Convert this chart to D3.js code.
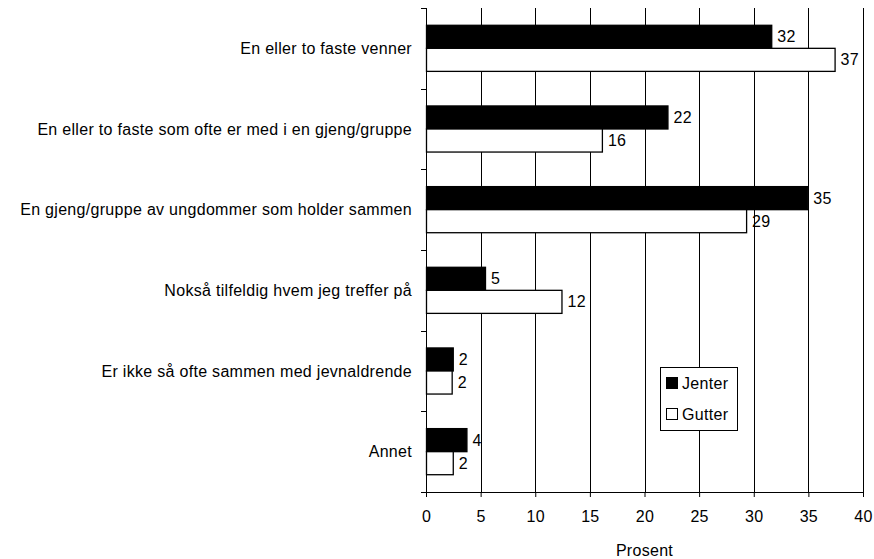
<!DOCTYPE html>
<html>
<head>
<meta charset="utf-8">
<script src="https://cdn.jsdelivr.net/npm/d3@7"></script>
<style>
  body { margin: 0; background: #fff; }
  text { font-family: Arial, "Liberation Sans", sans-serif; font-size: 16px; letter-spacing: 0.3px; }
</style>
</head>
<body>
<div id="chart"></div>
<script>
var categories = [
  "En eller to faste venner",
  "En eller to faste som ofte er med i en gjeng/gruppe",
  "En gjeng/gruppe av ungdommer som holder sammen",
  "Nokså tilfeldig hvem jeg treffer på",
  "Er ikke så ofte sammen med jevnaldrende",
  "Annet"
];
var seriesNames = ["Jenter", "Gutter"];
var jenter = [31.6, 22.1, 34.9, 5.4, 2.45, 3.7];
var gutter = [37.4, 16.1, 29.3, 12.4, 2.35, 2.45];
var xTicks = [0, 5, 10, 15, 20, 25, 30, 35, 40];

var margin = {top: 8, right: 11, bottom: 67, left: 426},
    width = 874 - margin.left - margin.right,
    height = 559 - margin.top - margin.bottom;

var svg = d3.select("#chart")
  .append("svg")
    .attr("width", 874)
    .attr("height", 559)
  .append("g")
    .attr("transform", "translate(" + margin.left + "," + margin.top + ")");

var x = d3.scaleLinear().domain([0, 40]).range([0, width]);
var y = d3.scaleBand().domain(categories).range([0, height]);
var y1 = d3.scaleBand().domain(seriesNames).range([0, y.bandwidth()]).paddingOuter(0.75);

// vertical gridlines
svg.append("g")
  .selectAll("line")
  .data(xTicks.slice(1))
  .enter().append("line")
    .attr("x1", function(d) { return Math.round(x(d)) + 0.5; })
    .attr("x2", function(d) { return Math.round(x(d)) + 0.5; })
    .attr("y1", 0)
    .attr("y2", height)
    .attr("stroke", "#000")
    .attr("stroke-width", 1);

// bars
var rows = categories.map(function(c, i) {
  return {cat: c, vals: [{s: "Jenter", v: jenter[i]}, {s: "Gutter", v: gutter[i]}]};
});

var groups = svg.selectAll(".grp")
  .data(rows)
  .enter().append("g")
    .attr("class", "grp")
    .attr("transform", function(d) { return "translate(0," + y(d.cat) + ")"; });

groups.selectAll("rect")
  .data(function(d) { return d.vals; })
  .enter().append("rect")
    .attr("x", 0.5)
    .attr("y", function(d) { return y1(d.s); })
    .attr("width", function(d) { return x(d.v); })
    .attr("height", y1.bandwidth())
    .attr("fill", function(d) { return d.s === "Jenter" ? "#000" : "#fff"; })
    .attr("stroke", "#000")
    .attr("stroke-width", 1.3);

groups.selectAll(".val")
  .data(function(d) { return d.vals; })
  .enter().append("text")
    .attr("class", "val")
    .attr("x", function(d) { return x(d.v) + 6; })
    .attr("y", function(d) { return y1(d.s) + y1.bandwidth() / 2; })
    .attr("dy", "0.35em")
    .attr("fill", "#000")
    .text(function(d) { return d3.format(".0f")(d.v); });

// y axis
var yAxis = svg.append("g");
yAxis.append("line")
  .attr("x1", 0.5).attr("x2", 0.5)
  .attr("y1", 0).attr("y2", height)
  .attr("stroke", "#000");
yAxis.selectAll(".tk")
  .data(d3.range(categories.length + 1))
  .enter().append("line")
    .attr("x1", -5).attr("x2", 0)
    .attr("y1", function(i) { return Math.round(i * y.step()) + 0.5; })
    .attr("y2", function(i) { return Math.round(i * y.step()) + 0.5; })
    .attr("stroke", "#000");
yAxis.selectAll(".lbl")
  .data(categories)
  .enter().append("text")
    .attr("x", -14)
    .attr("y", function(d) { return y(d) + y.bandwidth() / 2; })
    .attr("dy", "0.35em")
    .attr("text-anchor", "end")
    .text(function(d) { return d; });

// x axis
var xAxis = svg.append("g")
  .attr("transform", "translate(0," + height + ")")
  .call(d3.axisBottom(x).tickValues(xTicks).tickSize(5).tickSizeOuter(0));
xAxis.attr("font-size", null).attr("font-family", null);
xAxis.select(".domain").attr("stroke", "#000");
xAxis.selectAll("line").attr("stroke", "#000");
xAxis.selectAll("text")
  .attr("dy", "1.4em")
  .attr("fill", "#000");

svg.append("text")
  .attr("x", x(20))
  .attr("y", height + 64)
  .attr("text-anchor", "middle")
  .text("Prosent");

// legend
var legend = svg.append("g")
  .attr("transform", "translate(" + Math.round(x(21.4)) + "," + Math.round(y.step() * 4.45) + ")");
legend.append("rect")
  .attr("x", 0.5).attr("y", 0.5)
  .attr("width", 77).attr("height", 63)
  .attr("fill", "#fff")
  .attr("stroke", "#000");
var li = legend.selectAll(".li")
  .data(seriesNames)
  .enter().append("g")
    .attr("transform", function(d, i) { return "translate(6," + (16 + i * 31) + ")"; });
li.append("rect")
  .attr("x", 0.5).attr("y", -5.5)
  .attr("width", 11).attr("height", 11)
  .attr("fill", function(d) { return d === "Jenter" ? "#000" : "#fff"; })
  .attr("stroke", "#000");
li.append("text")
  .attr("x", 16)
  .attr("y", 0)
  .attr("dy", "0.35em")
  .attr("letter-spacing", "0px")
  .text(function(d) { return d; });
</script>
</body>
</html>
